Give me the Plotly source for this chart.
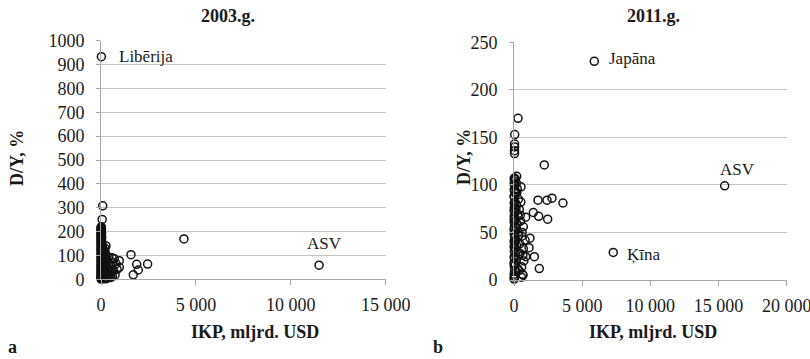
import plotly.graph_objects as go

# ---------------- 2003 data (IKP, mljrd. USD ; D/Y, %) ----------------
core_x_03 = [3, 8, 15, 2, 25, 6, 40, 11, 4, 18, 60, 9, 30, 5, 14, 50, 7, 22, 12, 3,
             35, 19, 70, 6, 27, 10, 45, 4, 16, 55, 8, 24, 13, 38, 5, 20, 65, 9, 31, 14,
             4, 48, 11, 26, 7, 17, 80, 6, 33, 12, 21, 3, 42, 9, 15, 28, 5, 19, 10, 36,
             7, 14, 24, 4, 11, 30, 8, 16, 6, 22, 12, 9, 18, 5, 14]
core_y_03 = [1, 4, 7, 10, 12, 15, 19, 21, 24, 27, 29, 33, 35, 38, 42, 44, 47, 51, 53, 56,
             58, 62, 64, 67, 71, 73, 76, 80, 82, 85, 89, 91, 94, 98, 100, 103, 107, 109, 112, 116,
             118, 121, 125, 127, 130, 134, 136, 139, 143, 145, 148, 152, 154, 157, 161, 163, 166, 170, 172, 175,
             179, 181, 184, 188, 190, 193, 197, 199, 202, 206, 208, 211, 214, 217, 220]
mid_x_03 = [150, 220, 120, 300, 180, 260, 140, 350, 200, 110, 280, 160, 240, 130, 320, 190,
            270, 115, 230, 170, 125, 210, 263, 400, 450, 380, 420, 360, 480, 330, 250, 410, 200]
mid_y_03 = [3, 8, 14, 18, 24, 30, 36, 41, 47, 52, 58, 63, 70, 76, 82, 88,
            95, 101, 108, 115, 122, 130, 140, 12, 28, 45, 60, 75, 9, 5, 2, 92, 118]
out_x_03 = [580, 700, 740, 600, 650, 965, 965, 520, 550, 800, 620, 850, 530]
out_y_03 = [90, 86, 18, 14, 39, 78, 50, 55, 30, 65, 70, 42, 8]
big_x_03 = [20, 90, 60, 1580, 2456, 1880, 1965, 1700, 4370, 11490]
big_y_03 = [933, 308, 251, 103, 64, 63, 39, 19, 169, 59]

# ---------------- 2011 data ----------------
core_x_11 = [5, 20, 60, 10, 150, 35, 250, 15, 90, 3, 180, 45, 8, 120, 300, 25, 70, 12, 200, 40,
             6, 130, 55, 350, 18, 85, 4, 160, 30, 220, 9, 100, 50, 14, 270, 65, 7, 140, 22, 190,
             11, 75, 320, 28, 5, 110, 42, 16, 240, 60, 8, 170, 33, 95, 13, 210, 48, 20, 280, 38]
core_y_11 = [1, 3, 4, 6, 9, 10, 12, 15, 16, 18, 21, 23, 24, 27, 29, 30, 33, 35, 36, 39,
             41, 42, 45, 47, 48, 51, 53, 55, 56, 59, 61, 62, 65, 67, 68, 71, 73, 75, 76, 79,
             81, 82, 85, 87, 88, 91, 93, 95, 96, 99, 101, 102, 104, 106, 107, 92, 78, 64, 50, 37]
mid_x_11 = [390, 685, 560, 806, 685, 440, 560, 637, 480, 600, 420, 720, 500, 650, 380, 460, 540]
mid_y_11 = [74, 56, 46, 42, 33, 28, 14, 6, 62, 50, 38, 20, 82, 26, 10, 68, 3]
big_x_11 = [5887, 15450, 7280, 293, 50, 40, 45, 35, 40, 2222, 198, 60, 513, 1760, 2420,
            2786, 3590, 1417, 856, 1808, 2468, 1173, 1100, 856, 1490, 1857, 660]
big_y_11 = [230, 99, 29, 170, 153, 143, 140, 136, 133, 121, 109, 107, 98, 84, 84,
            86, 81, 71, 66, 67, 64, 44, 34, 24.5, 24.5, 12, 5]

x_ticks_03 = [0, 5000, 10000, 15000]
x_ticks_11 = [0, 5000, 10000, 15000, 20000]
x_labels_03 = ["0", "5 000", "10 000", "15 000"]
x_labels_11 = ["0", "5 000", "10 000", "15 000", "20 000"]

labels_03 = [("Libērija", 842, 933), ("ASV", 10730, 152)]
labels_11 = [("Japāna", 6795, 233), ("ASV", 14931, 116), ("Ķīna", 8114, 27)]

FONT = "Liberation Serif, Times New Roman, serif"
GRID = "#c4c4c4"
LINE = "#a6a6a6"
TXT = "#1a1a1a"

x03 = core_x_03 + mid_x_03 + out_x_03 + big_x_03
y03 = core_y_03 + mid_y_03 + out_y_03 + big_y_03
x11 = core_x_11 + mid_x_11 + big_x_11
y11 = core_y_11 + mid_y_11 + big_y_11

marker = dict(symbol="circle-open", size=8, color="#111111", line=dict(width=1.5, color="#111111"))

fig = go.Figure()
fig.add_trace(go.Scatter(x=x03, y=y03, mode="markers", marker=marker, xaxis="x", yaxis="y",
                         cliponaxis=False, showlegend=False))
fig.add_trace(go.Scatter(x=x11, y=y11, mode="markers", marker=marker, xaxis="x2", yaxis="y2",
                         cliponaxis=False, showlegend=False))

W, H = 810, 359

def px(v):
    return v / W

def py(v):
    return 1 - v / H

axis_common = dict(showline=True, linecolor=LINE, linewidth=1, ticks="outside", tickcolor=LINE,
                   tickfont=dict(family=FONT, size=18, color=TXT), zeroline=False, fixedrange=True,
                   automargin=False, ticklabeloverflow="allow")

fig.update_layout(
    template="none",
    width=W, height=H, margin=dict(l=0, r=0, t=0, b=0, pad=0),
    paper_bgcolor="white", plot_bgcolor="white",
    xaxis=dict(domain=[px(101), px(385.7)], range=[0, 15000], anchor="y",
               tickvals=x_ticks_03, ticktext=x_labels_03, showgrid=False, ticklen=5,
               ticklabelstandoff=4, **axis_common),
    yaxis=dict(domain=[py(279.3), py(40.7)], range=[0, 1000], anchor="x", dtick=100,
               showgrid=True, gridcolor=GRID, ticklen=4, ticklabelstandoff=8, **axis_common),
    xaxis2=dict(domain=[px(514), px(786.7)], range=[0, 20000], anchor="y2",
                tickvals=x_ticks_11, ticktext=x_labels_11, showgrid=False, ticklen=5,
                ticklabelstandoff=4, **axis_common),
    yaxis2=dict(domain=[py(280), py(42.3)], range=[0, 250], anchor="x2", dtick=50,
                showgrid=True, gridcolor=GRID, ticklen=4, ticklabelstandoff=8, **axis_common),
)

ann = []
for t, x, y in labels_03:
    ann.append(dict(text=t, x=x, y=y, xref="x", yref="y", xanchor="left", yanchor="middle",
                    showarrow=False, font=dict(family=FONT, size=17, color=TXT)))
for t, x, y in labels_11:
    ann.append(dict(text=t, x=x, y=y, xref="x2", yref="y2", xanchor="left", yanchor="middle",
                    showarrow=False, font=dict(family=FONT, size=17, color=TXT)))

bold = dict(family=FONT, size=18, color=TXT)
paper_texts = [
    ("<b>2003.g.</b>", 228, 16, 0),
    ("<b>2011.g.</b>", 653, 16, 0),
    ("<b>IKP, mljrd. USD</b>", 255, 332, 0),
    ("<b>IKP, mljrd. USD</b>", 653, 332, 0),
    ("<b>D/Y, %</b>", 17, 158, -90),
    ("<b>D/Y, %</b>", 464, 157, -90),
    ("<b>a</b>", 12, 347, 0),
    ("<b>b</b>", 438, 347, 0),
]
for t, x, y, a in paper_texts:
    ann.append(dict(text=t, x=px(x), y=py(y), xref="paper", yref="paper", xanchor="center",
                    yanchor="middle", showarrow=False, textangle=a, font=bold))

fig.update_layout(annotations=ann)
fig.write_html("out.html")
